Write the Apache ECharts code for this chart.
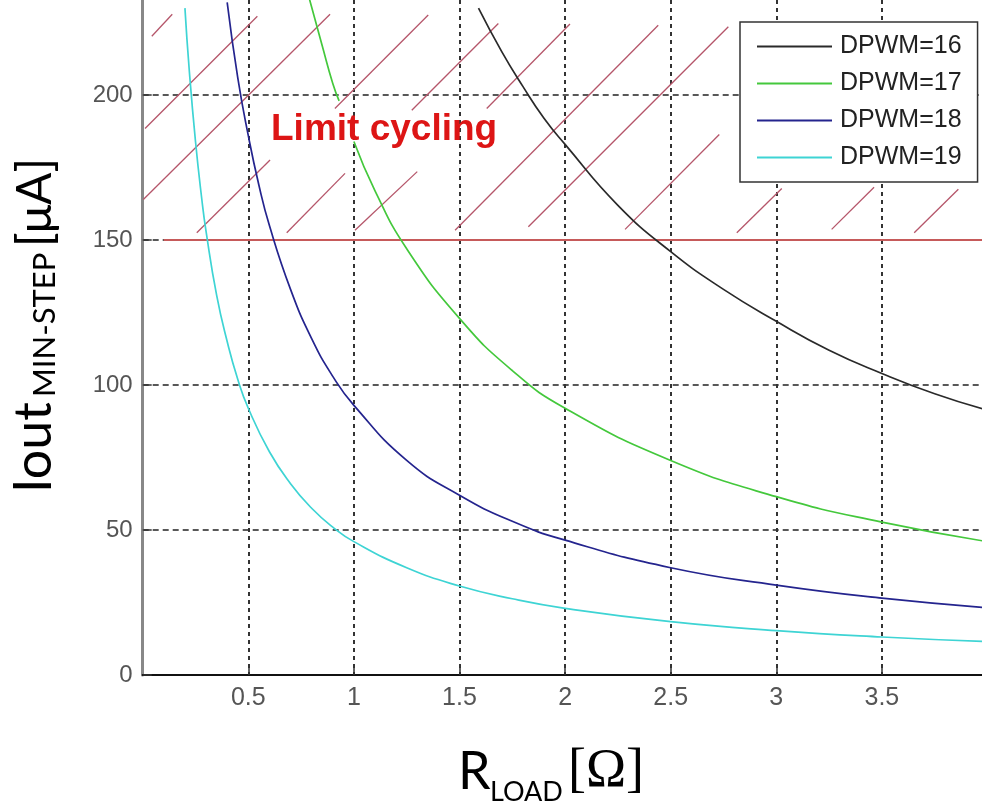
<!DOCTYPE html>
<html>
<head>
<meta charset="utf-8">
<script src="https://cdn.jsdelivr.net/npm/echarts@6/dist/echarts.min.js"></script>
<style>
  html, body { margin: 0; padding: 0; background: #fff; }
  #chart { width: 982px; height: 804px; }
</style>
</head>
<body>
<div id="chart"></div>
<script>
// curves (R_LOAD in ohm, Iout in uA)
var r16 = [1.59, 1.7, 1.8, 1.9, 2.0, 2.25, 2.5, 2.75, 3.0, 3.25, 3.5, 3.75, 4.0];
var i16 = [230, 215, 203, 192, 183, 162, 146, 133, 122, 112, 104, 97, 91.3];

// null = where the curve is hidden behind the "Limit cycling" label
var r17 = [0.79, 0.85, 0.9, 0.93, 0.965, 1.0, 1.1, 1.25, 1.5, 1.75, 2.0, 2.5, 3.0, 3.5, 4.0];
var i17 = [233, 217, 204, 198, null, 184, 167, 147, 123, 105, 92, 74, 61.5, 52.7, 46];

var r18 = [0.4, 0.45, 0.5, 0.55, 0.6, 0.7, 0.8, 0.9, 1.0, 1.25, 1.5, 1.75, 2.0, 2.5, 3.0, 3.5, 4.0];
var i18 = [232, 206, 186, 169, 155, 133, 116, 103, 93, 74, 62, 53, 46.5, 37, 31, 26.5, 23.2];

var r19 = [0.2, 0.22, 0.25, 0.28, 0.3, 0.35, 0.4, 0.45, 0.5, 0.6, 0.7, 0.8, 0.9, 1.0, 1.25, 1.5, 1.75, 2.0, 2.5, 3.0, 3.5, 4.0];
var i19 = [230, 209, 184, 164, 153, 131, 115, 102, 92, 77, 66, 57.5, 51, 46, 37, 30.7, 26.3, 23, 18.4, 15.3, 13.1, 11.5];

var names = ['DPWM=16', 'DPWM=17', 'DPWM=18', 'DPWM=19'];
var colors = ['#2a2a2a', '#44c83c', '#24248e', '#3ed4d4'];

// limit-cycling threshold
var limitR = [0.1, 4];
var limitI = [150, 150];

// hatch segments of the limit-cycling region: [r1, i1, r2, i2]
var hatch = [
  [0.043, 220.3, 0.140, 227.9],
  [0.011, 188.5, 0.543, 227.2],
  [0.003, 164.0, 0.887, 227.9],
  [0.256, 152.5, 0.603, 177.6],
  [0.682, 152.5, 0.958, 173.0],
  [0.910, 195.4, 1.352, 227.6],
  [1.005, 153.4, 1.300, 173.6],
  [1.274, 194.8, 1.684, 224.7],
  [1.479, 153.4, 2.441, 224.1],
  [1.629, 195.4, 2.023, 224.5],
  [1.826, 154.6, 2.773, 223.6],
  [2.284, 153.7, 2.730, 186.4],
  [2.813, 152.5, 3.026, 167.8],
  [3.262, 153.7, 3.463, 168.2],
  [3.653, 152.5, 3.862, 167.5]
];

// visible axis window (the picture is cropped at the top and right)
var xMin = 0, xMax = 3.974, xStep = 0.5;
var yMin = 0, yMax = 232.8, yStep = 50;

function pairs(rs, is) {
  return rs.map(function (r, k) { return [r, is[k] == null ? '-' : is[k]]; });
}

var curves = [[r16, i16], [r17, i17], [r18, i18], [r19, i19]];

var series = [];
series.push({
  type: 'lines',
  coordinateSystem: 'cartesian2d',
  silent: true,
  z: 1,
  lineStyle: { color: '#b5566a', width: 1.3, opacity: 1 },
  data: hatch.map(function (s) { return { coords: [[s[0], s[1]], [s[2], s[3]]] }; })
});
series.push({
  type: 'line',
  name: 'limit',
  data: pairs(limitR, limitI),
  symbol: 'none',
  silent: true,
  z: 2,
  lineStyle: { color: '#c65a5a', width: 2 }
});
curves.forEach(function (c, k) {
  series.push({
    type: 'line',
    name: names[k],
    data: pairs(c[0], c[1]),
    symbol: 'none',
    smooth: 0.5,
    connectNulls: false,
    z: 3,
    lineStyle: { color: colors[k], width: 1.7 },
    itemStyle: { color: colors[k] }
  });
});

var chart = echarts.init(document.getElementById('chart'));
chart.setOption({
  animation: false,
  backgroundColor: '#fff',
  grid: { left: 142.7, right: 0, top: 0, bottom: 129, containLabel: false },
  xAxis: {
    type: 'value',
    min: xMin,
    max: xMax,
    interval: xStep,
    axisLine: { show: true, onZero: false, lineStyle: { color: '#111', width: 2 } },
    axisTick: { show: true, inside: true, length: 8, lineStyle: { color: '#333', width: 1.5 } },
    axisLabel: {
      showMinLabel: false, showMaxLabel: false, margin: 11,
      color: '#555', fontFamily: 'Liberation Sans', fontSize: 25
    },
    splitLine: { show: true, showMinLine: false, showMaxLine: false, lineStyle: { color: '#333', width: 2, type: [4, 4] } }
  },
  yAxis: {
    type: 'value',
    min: yMin,
    max: yMax,
    interval: yStep,
    axisLine: { show: true, onZero: false, lineStyle: { color: '#888', width: 3 } },
    axisTick: { show: true, inside: true, length: 9, lineStyle: { color: '#333', width: 1.5 } },
    axisLabel: {
      showMaxLabel: false, margin: 10,
      color: '#555', fontFamily: 'Liberation Sans', fontSize: 24
    },
    splitLine: { show: true, showMinLine: false, showMaxLine: false, lineStyle: { color: '#222', width: 1.5, type: [6, 4] } }
  },
  legend: {
    data: names,
    orient: 'vertical',
    left: 740,
    top: 22,
    padding: [12, 16, 12, 17],
    itemGap: 12,
    itemWidth: 75,
    itemHeight: 2,
    icon: 'rect',
    backgroundColor: '#fff',
    borderColor: '#333',
    borderWidth: 1.5,
    borderRadius: 0,
    textStyle: { color: '#222', fontFamily: 'Liberation Sans', fontSize: 25, padding: [0, 0, 0, 3] }
  },
  graphic: [
    {
      type: 'text',
      left: 271, top: 111,
      z: 10,
      style: { text: 'Limit cycling', fill: '#dd1515', font: 'bold 37px "Liberation Sans"' }
    },
    {
      type: 'group',
      x: 60, y: 493,
      rotation: Math.PI / 2,
      children: [
        { type: 'text', x: 0, y: 0, style: { text: 'Iout', fill: '#000', font: '52px Lato', verticalAlign: 'bottom' } },
        { type: 'text', x: 96, y: 0, style: { text: 'MIN-STEP', fill: '#000', font: '31px Lato', verticalAlign: 'bottom' } },
        { type: 'text', x: 246, y: 0, style: { text: '[μA]', fill: '#000', font: '48px Lato', verticalAlign: 'bottom' } }
      ]
    },
    {
      type: 'group',
      x: 458, y: 800,
      children: [
        { type: 'text', x: 0, y: -2, style: { text: 'R', fill: '#000', font: '52px Lato', verticalAlign: 'bottom' } },
        { type: 'text', x: 32, y: 6, style: { text: 'LOAD', fill: '#000', font: '27px Lato', verticalAlign: 'bottom' } },
        { type: 'text', x: 110, y: -1, style: { text: '[Ω]', fill: '#000', font: '54px "Liberation Serif"', verticalAlign: 'bottom' } }
      ]
    }
  ],
  series: series
});
</script>
</body>
</html>
